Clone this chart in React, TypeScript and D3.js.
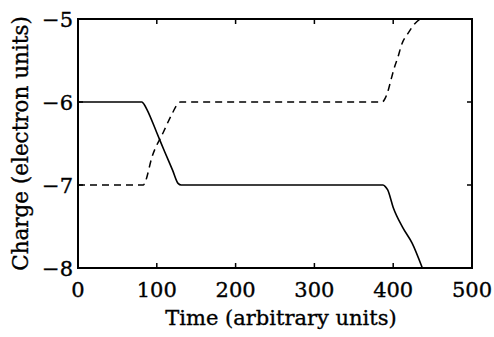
import * as d3 from "d3";

const solidTime = [0, 81, 84, 88, 100, 110, 120, 127, 131, 135, 387, 390, 393, 400, 412, 424, 437];
const solidCharge = [-6, -6, -6.03, -6.1, -6.37, -6.6, -6.82, -6.98, -7, -7, -7, -7.02, -7.06, -7.27, -7.51, -7.7, -8];

const dashedTime = [0, 83, 85, 94, 108, 120, 126, 130, 386, 389, 393, 397, 401, 406, 411, 419, 428, 434];
const dashedCharge = [-7, -7, -6.97, -6.66, -6.37, -6.13, -6.03, -6, -6, -5.97, -5.88, -5.74, -5.6, -5.46, -5.3, -5.17, -5.05, -5];

const xTicks = [0, 100, 200, 300, 400, 500];
const yTicks = [-8, -7, -6, -5];

const W = 494;
const H = 337;
const m = { top: 19, right: 22, bottom: 69, left: 78 };
const font = "'DejaVu Serif', serif";

export default function App() {
  const x = d3.scaleLinear().domain([0, 500]).range([m.left, W - m.right]);
  const y = d3.scaleLinear().domain([-8, -5]).range([H - m.bottom, m.top]);

  const line = d3
    .line<[number, number]>()
    .x((d) => x(d[0]))
    .y((d) => y(d[1]))
    .curve(d3.curveMonotoneX);

  const solid = line(solidTime.map((t, i) => [t, solidCharge[i]]) as [number, number][]) ?? "";
  const dashed = line(dashedTime.map((t, i) => [t, dashedCharge[i]]) as [number, number][]) ?? "";

  const x0 = x(0), x1 = x(500), y0 = y(-8), y1 = y(-5);
  const tick = 5;
  // a thin outline makes the serif look closer to the heavier original face
  const ink = { fill: "#000", stroke: "#000", strokeWidth: 0.35 };

  return (
    <svg
      width={W}
      height={H}
      style={{ position: "absolute", left: 0, top: 0, background: "#fff" }}
      fontFamily={font}
    >
      {/* curves */}
      <path d={dashed} fill="none" stroke="#000" strokeWidth={1.5} strokeDasharray="7,5" />
      <path d={solid} fill="none" stroke="#000" strokeWidth={1.6} />

      {/* ticks, pointing inward on all four sides */}
      {xTicks.slice(1, -1).map((t) => (
        <g key={"x" + t}>
          <line x1={x(t)} x2={x(t)} y1={y0} y2={y0 - tick} stroke="#000" strokeWidth={1.5} />
          <line x1={x(t)} x2={x(t)} y1={y1} y2={y1 + tick} stroke="#000" strokeWidth={1.5} />
        </g>
      ))}
      {yTicks.slice(1, -1).map((t) => (
        <g key={"y" + t}>
          <line x1={x0} x2={x0 + tick} y1={y(t)} y2={y(t)} stroke="#000" strokeWidth={1.5} />
          <line x1={x1} x2={x1 - tick} y1={y(t)} y2={y(t)} stroke="#000" strokeWidth={1.5} />
        </g>
      ))}

      {/* frame */}
      <rect x={x0} y={y1} width={x1 - x0} height={y0 - y1} fill="none" stroke="#000" strokeWidth={2} />

      {/* tick labels */}
      {xTicks.map((t) => (
        <text key={"xl" + t} x={x(t)} y={y0 + 29} textAnchor="middle" fontSize={21} {...ink}>
          {t}
        </text>
      ))}
      {yTicks.map((t) => (
        <text
          key={"yl" + t}
          x={x0 - 5}
          y={y(t)}
          dy="0.36em"
          textAnchor="end"
          fontSize={21}
          {...ink}
        >
          {"\u2212" + Math.abs(t)}
        </text>
      ))}

      {/* axis titles */}
      <text x={(x0 + x1) / 2 + 6} y={325} textAnchor="middle" fontSize={21} {...ink}>
        Time (arbitrary units)
      </text>
      <text
        transform={`translate(28,${(y0 + y1) / 2}) rotate(-90)`}
        textAnchor="middle"
        fontSize={21.5}
        {...ink}
      >
        Charge (electron units)
      </text>
    </svg>
  );
}
